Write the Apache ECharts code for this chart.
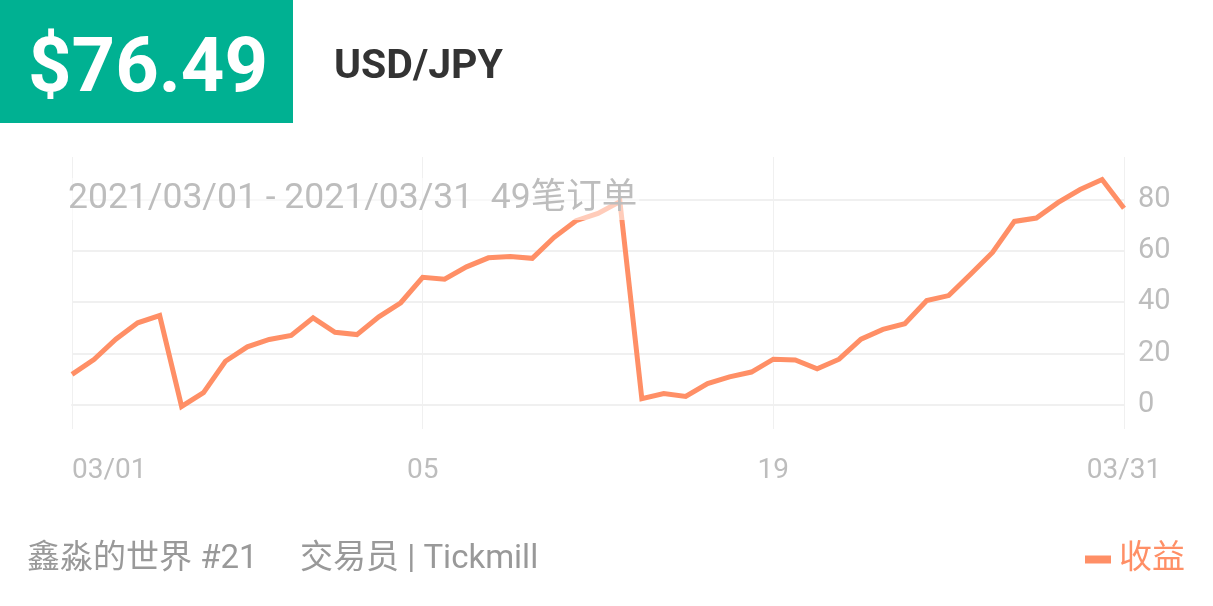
<!DOCTYPE html>
<html>
<head>
<meta charset="utf-8">
<script src="https://cdn.jsdelivr.net/npm/echarts@6/dist/echarts.min.js"></script>
<style>
  html, body { margin: 0; padding: 0; background: #ffffff; }
  #chart { width: 1213px; height: 606px; }
</style>
</head>
<body>
<div id="chart"></div>
<script>
// ---- data ----
const priceText = '$76.49';
const symbolText = 'USD/JPY';
const periodText = '2021/03/01 - 2021/03/31  49笔订单';
const footerLeft = '鑫淼的世界 #21';
const footerMid = '交易员 | Tickmill';
const seriesName = '收益';

const values = [11.8, 17.6, 25.5, 31.9, 34.7, -0.7, 4.7, 16.9, 22.5, 25.4,
  27.0, 33.8, 28.2, 27.3, 34.2, 39.7, 49.6, 48.9, 53.7, 57.2,
  57.7, 57.0, 65.2, 71.7, 74.5, 79.1, 2.3, 4.3, 3.2, 8.2,
  10.8, 12.7, 17.7, 17.4, 14.0, 17.7, 25.5, 29.3, 31.5, 40.6,
  42.5, 50.8, 59.3, 71.4, 72.7, 78.8, 83.8, 87.7, 76.49];
const categories = values.map((v, i) => 'T' + (i + 1));
const tickIndex = [0, 16, 32, 48];
const tickLabels = ['03/01', '05', '19', '03/31'];
const yMin = -9.5;
const yMax = 96.5;

// ---- chart ----
const FONT = "Roboto, 'Noto Sans CJK SC', sans-serif";
const ORANGE = '#ff8f66';
const chart = echarts.init(document.getElementById('chart'), null, { renderer: 'canvas' });

chart.setOption({
  animation: false,
  backgroundColor: '#ffffff',
  textStyle: { fontFamily: FONT },
  graphic: [
    { type: 'rect', left: 0, top: 0, shape: { width: 293, height: 123 }, style: { fill: '#00b192' }, z: 0 },
    { type: 'text', left: 28, top: 34, style: { text: priceText, fill: '#ffffff', font: "bold 76px " + FONT } },
    { type: 'text', left: 334, top: 47, style: { text: symbolText, fill: '#333333', font: "bold 41px " + FONT } }
  ],
  title: [
    {
      text: periodText, left: 66, top: 178, padding: [2, 2, 2, 2],
      backgroundColor: 'rgba(255,255,255,0.55)',
      textStyle: { fontSize: 35.5, fontWeight: 'normal', color: '#bdbdbd', fontFamily: FONT, lineHeight: 38 }
    },
    {
      text: footerLeft, left: 27, top: 543, padding: 0,
      textStyle: { fontSize: 33, fontWeight: 'normal', color: '#999999', fontFamily: FONT }
    },
    {
      text: footerMid, left: 300, top: 543, padding: 0,
      textStyle: { fontSize: 33, fontWeight: 'normal', color: '#999999', fontFamily: FONT }
    }
  ],
  legend: {
    right: 28, top: 543, padding: 0,
    icon: 'rect', itemWidth: 26, itemHeight: 8, itemGap: 10,
    textStyle: { fontSize: 33, color: ORANGE, fontFamily: FONT, padding: [0, 0, 0, 3] },
    data: [seriesName]
  },
  grid: { left: 72, right: 89, top: 157, bottom: 177, containLabel: false },
  xAxis: {
    type: 'category',
    data: categories,
    boundaryGap: false,
    axisLine: { show: true, lineStyle: { color: '#f0f0f0', width: 2 } },
    axisTick: { show: false },
    axisLabel: {
      interval: 15, margin: 28, fontSize: 28, color: '#bdbdbd', fontFamily: FONT,
      alignMinLabel: 'left',
      formatter: (v, i) => { const k = tickIndex.indexOf(i); return k >= 0 ? tickLabels[k] : ''; }
    },
    splitLine: { show: true, interval: 15, lineStyle: { color: '#f0f0f0', width: 1 } }
  },
  yAxis: {
    type: 'value',
    position: 'right',
    min: yMin, max: yMax,
    axisLine: { show: false },
    axisTick: { show: false },
    axisLabel: { margin: 14, fontSize: 29, color: '#bdbdbd', fontFamily: FONT, showMinLabel: false, showMaxLabel: false, padding: [8, 0, 0, 0] },
    splitLine: { show: true, showMinLine: false, showMaxLine: false, lineStyle: { color: '#f0f0f0', width: 2 } }
  },
  series: [{
    name: seriesName,
    type: 'line',
    data: values,
    symbol: 'none',
    itemStyle: { color: ORANGE },
    lineStyle: { color: ORANGE, width: 5, join: 'miter' },
    z: 2
  }]
});
</script>
</body>
</html>
